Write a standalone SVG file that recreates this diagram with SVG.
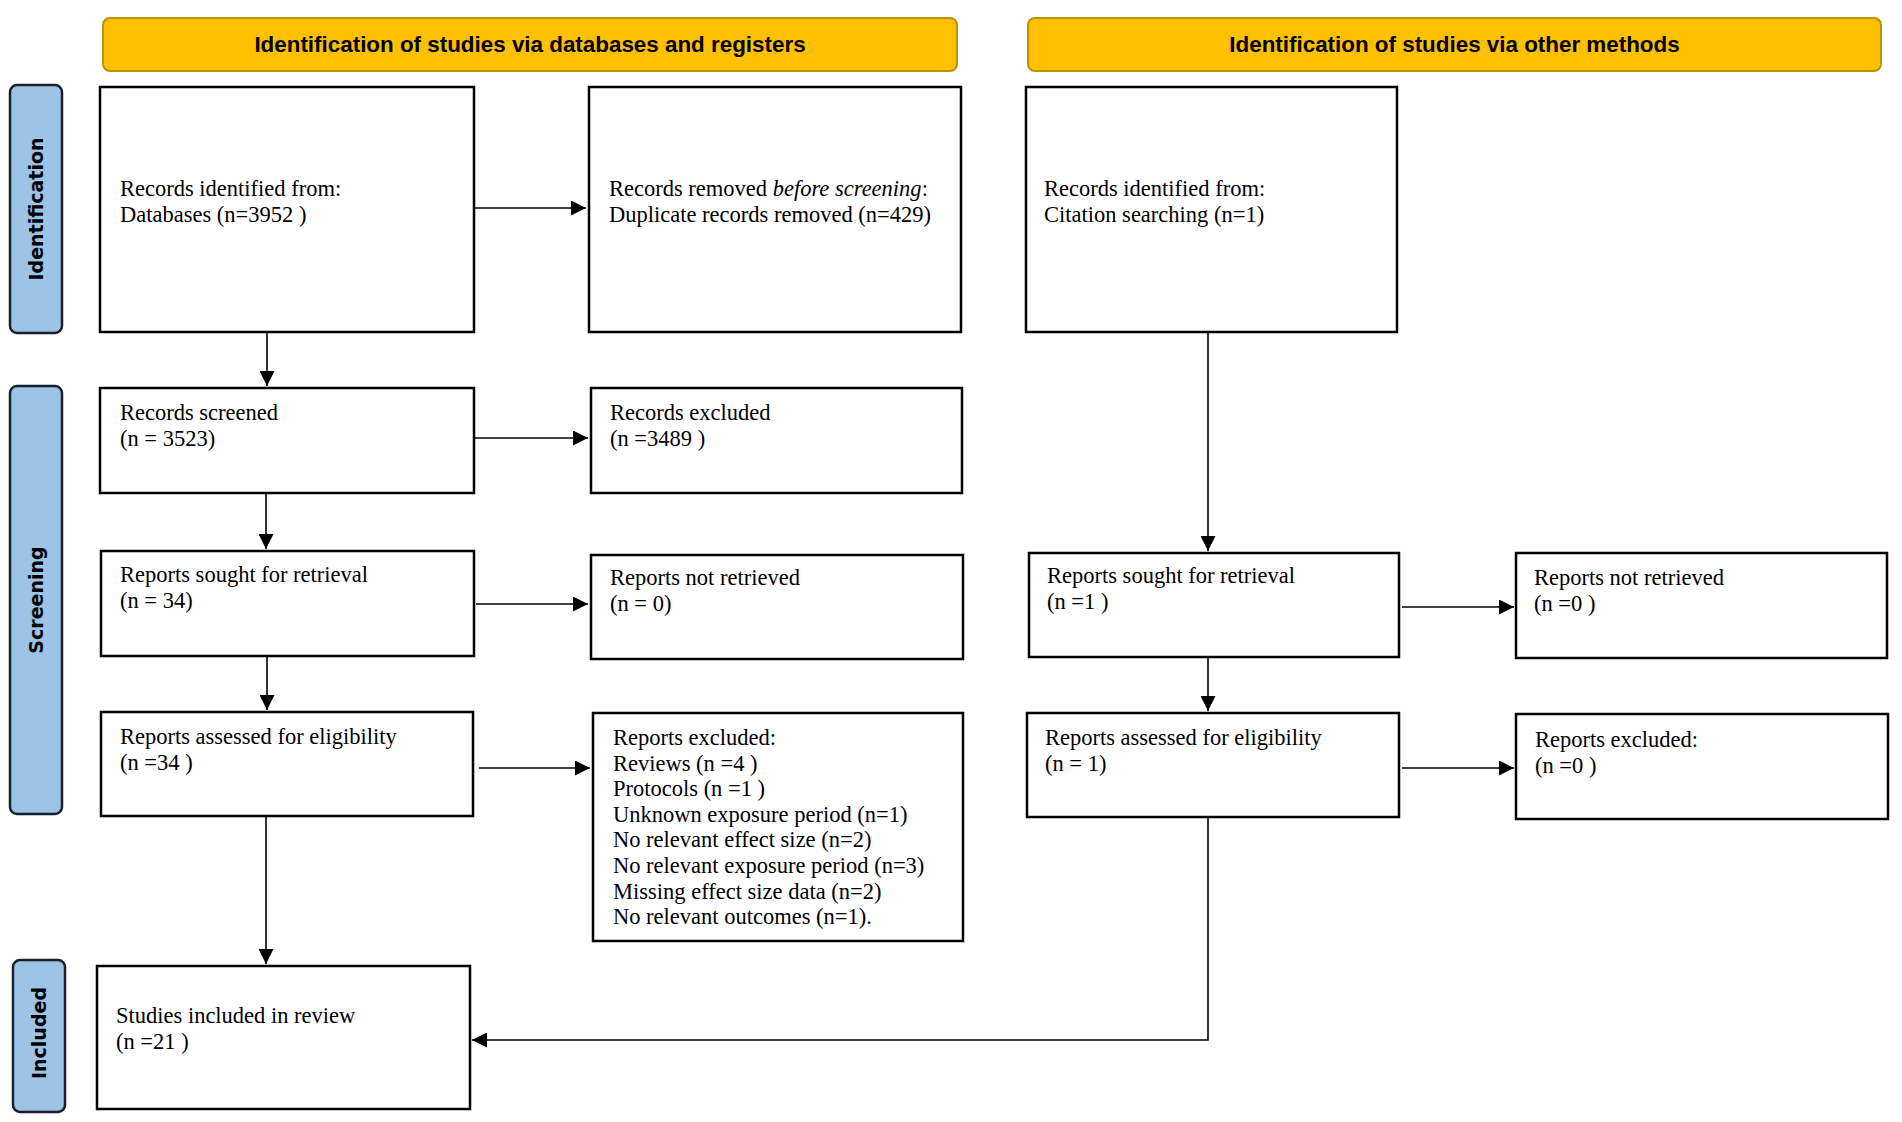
<svg xmlns="http://www.w3.org/2000/svg" width="1902" height="1122" viewBox="0 0 1902 1122">
<style>
.hdr{fill:#FFC000;stroke:#BF9000;stroke-width:2}
.hdrt{font-family:"Liberation Sans",Arial,sans-serif;font-weight:bold;font-size:22.4px;fill:#000;text-anchor:middle}
.side{fill:#9DC3E6;stroke:#1a1f2b;stroke-width:2.5}
.sidet{font-family:"DejaVu Sans",Verdana,sans-serif;font-weight:bold;font-size:19px;fill:#000;text-anchor:middle}
.box{fill:#fff;stroke:#000;stroke-width:2.5}
.t{font-family:"Liberation Serif","Times New Roman",serif;font-size:22.5px;fill:#000}
.c{fill:none;stroke:#000;stroke-width:1.6}
</style>
<defs>
<marker id="ah" markerUnits="userSpaceOnUse" markerWidth="15" markerHeight="15" refX="15" refY="7.5" orient="auto">
<path d="M0,0 L15,7.5 L0,15 z" fill="#000"/>
</marker>
</defs>
<rect width="1902" height="1122" fill="#fff"/>

<g id="header-databases"><rect class="hdr" x="103" y="18" width="854" height="53" rx="7"/><text class="hdrt" x="530" y="52">Identification of studies via databases and registers</text></g>
<g id="header-other"><rect class="hdr" x="1028" y="18" width="853" height="53" rx="7"/><text class="hdrt" x="1454.5" y="52">Identification of studies via other methods</text></g>

<g id="side-identification"><rect class="side" x="10" y="85" width="52" height="248" rx="7"/><text class="sidet" transform="translate(43,209) rotate(-90)">Identification</text></g>
<g id="side-screening"><rect class="side" x="10" y="386" width="52" height="428" rx="7"/><text class="sidet" transform="translate(43,600) rotate(-90)">Screening</text></g>
<g id="side-included"><rect class="side" x="13" y="960" width="52" height="152" rx="7"/><text class="sidet" transform="translate(46,1033) rotate(-90)">Included</text></g>

<g id="connectors">
<line class="c" x1="474" y1="208" x2="586" y2="208" marker-end="url(#ah)"/>
<line class="c" x1="267" y1="332" x2="267" y2="386" marker-end="url(#ah)"/>
<line class="c" x1="474" y1="438" x2="588" y2="438" marker-end="url(#ah)"/>
<line class="c" x1="266" y1="493" x2="266" y2="549" marker-end="url(#ah)"/>
<line class="c" x1="476" y1="604" x2="588" y2="604" marker-end="url(#ah)"/>
<line class="c" x1="267" y1="656" x2="267" y2="710" marker-end="url(#ah)"/>
<line class="c" x1="479" y1="768" x2="590" y2="768" marker-end="url(#ah)"/>
<line class="c" x1="266" y1="816" x2="266" y2="964" marker-end="url(#ah)"/>
<line class="c" x1="1208" y1="332" x2="1208" y2="551" marker-end="url(#ah)"/>
<line class="c" x1="1402" y1="607" x2="1514" y2="607" marker-end="url(#ah)"/>
<line class="c" x1="1208" y1="657" x2="1208" y2="711" marker-end="url(#ah)"/>
<line class="c" x1="1402" y1="768" x2="1514" y2="768" marker-end="url(#ah)"/>
<polyline class="c" points="1208,817 1208,1040 472,1040" marker-end="url(#ah)"/>
</g>

<g id="records-identified-db"><rect class="box" x="100" y="87" width="374" height="245"/><text class="t" x="120" y="196">Records identified from:</text><text class="t" x="120" y="221.7">Databases (n=3952 )</text></g>
<g id="records-removed"><rect class="box" x="589" y="87" width="372" height="245"/><text class="t" x="609" y="196">Records removed <tspan font-style="italic">before screening</tspan>:</text><text class="t" x="609" y="221.7">Duplicate records removed (n=429)</text></g>
<g id="records-identified-other"><rect class="box" x="1026" y="87" width="371" height="245"/><text class="t" x="1044" y="196">Records identified from:</text><text class="t" x="1044" y="221.7">Citation searching (n=1)</text></g>

<g id="records-screened"><rect class="box" x="100" y="388" width="374" height="105"/><text class="t" x="120" y="420">Records screened</text><text class="t" x="120" y="445.7">(n = 3523)</text></g>
<g id="records-excluded"><rect class="box" x="591" y="388" width="371" height="105"/><text class="t" x="610" y="420">Records excluded</text><text class="t" x="610" y="445.7">(n =3489 )</text></g>

<g id="reports-sought-db"><rect class="box" x="101" y="551" width="373" height="105"/><text class="t" x="120" y="582">Reports sought for retrieval</text><text class="t" x="120" y="607.7">(n = 34)</text></g>
<g id="reports-not-retrieved-db"><rect class="box" x="591" y="555" width="372" height="104"/><text class="t" x="610" y="585">Reports not retrieved</text><text class="t" x="610" y="610.7">(n = 0)</text></g>
<g id="reports-sought-other"><rect class="box" x="1029" y="553" width="370" height="104"/><text class="t" x="1047" y="583">Reports sought for retrieval</text><text class="t" x="1047" y="608.7">(n =1 )</text></g>
<g id="reports-not-retrieved-other"><rect class="box" x="1516" y="553" width="371" height="105"/><text class="t" x="1534" y="585">Reports not retrieved</text><text class="t" x="1534" y="610.7">(n =0 )</text></g>

<g id="reports-assessed-db"><rect class="box" x="101" y="712" width="372" height="104"/><text class="t" x="120" y="744">Reports assessed for eligibility</text><text class="t" x="120" y="769.7">(n =34 )</text></g>
<g id="reports-excluded-db"><rect class="box" x="593" y="713" width="370" height="228"/>
<text class="t" x="613" y="745">Reports excluded:</text>
<text class="t" x="613" y="770.6">Reviews (n =4 )</text>
<text class="t" x="613" y="796.2">Protocols (n =1 )</text>
<text class="t" x="613" y="821.8">Unknown exposure period (n=1)</text>
<text class="t" x="613" y="847.4">No relevant effect size (n=2)</text>
<text class="t" x="613" y="873">No relevant exposure period (n=3)</text>
<text class="t" x="613" y="898.6">Missing effect size data (n=2)</text>
<text class="t" x="613" y="924.2">No relevant outcomes (n=1).</text>
</g>
<g id="reports-assessed-other"><rect class="box" x="1027" y="713" width="372" height="104"/><text class="t" x="1045" y="745">Reports assessed for eligibility</text><text class="t" x="1045" y="770.7">(n = 1)</text></g>
<g id="reports-excluded-other"><rect class="box" x="1516" y="714" width="372" height="105"/><text class="t" x="1535" y="747">Reports excluded:</text><text class="t" x="1535" y="772.7">(n =0 )</text></g>

<g id="studies-included"><rect class="box" x="97" y="966" width="373" height="143"/><text class="t" x="116" y="1023">Studies included in review</text><text class="t" x="116" y="1048.7">(n =21 )</text></g>
</svg>
